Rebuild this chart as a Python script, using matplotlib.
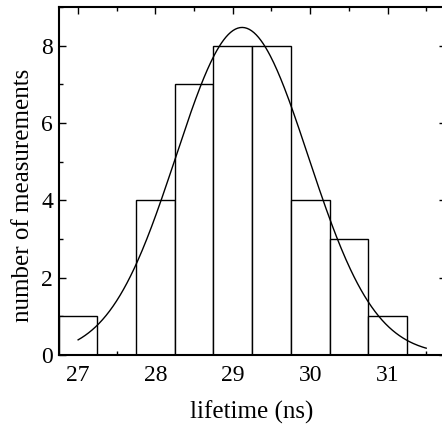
import numpy as np
import matplotlib
matplotlib.use("Agg")
import matplotlib.pyplot as plt
from matplotlib.ticker import MultipleLocator

# --- data ---
bin_centers = [27.0, 27.5, 28.0, 28.5, 29.0, 29.5, 30.0, 30.5, 31.0]
counts = [1, 0, 4, 7, 8, 8, 4, 3, 1]
bin_width = 0.5

# gaussian fit parameters (amplitude, mean, sigma) and plotted range
fit_amp = 8.47
fit_mu = 29.12
fit_sigma = 0.855
fit_range = (27.0, 31.5)

plt.rcParams['font.family'] = ['Liberation Serif', 'DejaVu Serif']

fig = plt.figure(figsize=(4.42, 4.26), dpi=100)
ax = fig.add_axes([0.133, 0.1667, 0.875, 0.817])

ax.bar(bin_centers, counts, width=bin_width, align='center',
       facecolor='white', edgecolor='black', linewidth=1.0, zorder=2)

xf = np.linspace(fit_range[0], fit_range[1], 300)
yf = fit_amp * np.exp(-(xf - fit_mu) ** 2 / (2 * fit_sigma ** 2))
ax.plot(xf, yf, color='black', linewidth=1.0, zorder=3)

ax.set_xlim(26.75, 31.75)
ax.set_ylim(0, 9)
ax.xaxis.set_major_locator(MultipleLocator(1))
ax.xaxis.set_minor_locator(MultipleLocator(0.5))
ax.yaxis.set_major_locator(MultipleLocator(2))
ax.yaxis.set_minor_locator(MultipleLocator(1))
ax.tick_params(which='both', direction='in', top=True, right=True,
               width=1.0, labelsize=17)
ax.tick_params(axis='x', pad=7)
ax.tick_params(axis='y', pad=4)
ax.tick_params(which='major', length=5)
ax.tick_params(which='minor', length=3)

for s in ax.spines.values():
    s.set_linewidth(1.5)

ax.set_xlabel('lifetime (ns)', fontsize=18)
ax.set_ylabel('number of measurements', fontsize=18)
ax.xaxis.set_label_coords(0.5, -0.13)
ax.yaxis.set_label_coords(-0.064, 0.46)

fig.savefig('out.png', dpi=100)
